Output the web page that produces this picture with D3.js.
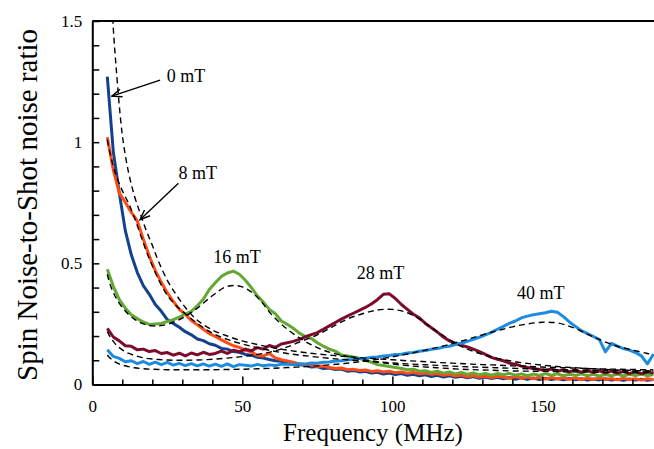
<!DOCTYPE html>
<html lang="en">
<head>
  <meta charset="UTF-8">
  <title>Spin noise spectra</title>
  <script src="https://d3js.org/d3.v7.min.js"></script>
  <style>
    body { margin: 0; background: #fff; }
    svg text { font-family: "Liberation Serif", "Times New Roman", serif; fill: #000; }
    .axis path { stroke: #000; stroke-width: 2; }
    .axis line { stroke: #000; stroke-width: 1.5; }
    .data { fill: none; stroke-width: 3; stroke-linejoin: round; }
    .fit { fill: none; stroke: #000; stroke-width: 1.4; stroke-dasharray: 6,4; }
  </style>
</head>
<body>
  <svg id="chart" width="654" height="449"></svg>
  <script>
    // frequency grid of the measured spectra (MHz)
    const freq = [5,7,9,11,13,15,17,19,21,23,
      25,27,29,31,33,35,37,39,41,43,
      45,47,49,51,53,55,57,59,61,63,
      65,67,69,71,73,75,77,79,81,83,
      85,87,89,91,93,95,97,99,101,103,
      105,107,109,111,113,115,117,119,121,123,
      125,127,129,131,133,135,137,139,141,143,
      145,147,149,151,153,155,157,159,161,163,
      165,167,169,171,173,175,177,179,181,183,
      185,187];

    const mT0 = [1.27,0.96,0.79,0.635,0.535,0.462,0.408,0.372,0.33,0.302,
      0.268,0.252,0.236,0.218,0.205,0.188,0.181,0.168,0.162,0.149,
      0.146,0.136,0.133,0.124,0.121,0.112,0.109,0.103,0.098,0.096,
      0.088,0.085,0.081,0.079,0.072,0.074,0.066,0.068,0.062,0.064,
      0.055,0.058,0.052,0.054,0.047,0.05,0.043,0.047,0.041,0.045,
      0.038,0.042,0.036,0.04,0.033,0.038,0.031,0.036,0.03,0.034,
      0.028,0.033,0.026,0.031,0.025,0.03,0.024,0.029,0.022,0.028,
      0.021,0.027,0.02,0.026,0.021,0.025,0.019,0.025,0.02,0.024,
      0.018,0.023,0.019,0.024,0.018,0.022,0.017,0.023,0.018,0.022,
      0.017,0.021];

    const mT8 = [1.02,0.885,0.79,0.752,0.71,0.675,0.6,0.53,0.47,0.422,
      0.378,0.343,0.31,0.29,0.264,0.246,0.228,0.21,0.198,0.184,
      0.172,0.16,0.153,0.141,0.135,0.12,0.118,0.128,0.11,0.102,
      0.097,0.092,0.085,0.082,0.08,0.074,0.076,0.07,0.066,0.068,
      0.061,0.063,0.058,0.06,0.054,0.057,0.052,0.055,0.049,0.052,
      0.046,0.05,0.044,0.047,0.042,0.045,0.038,0.042,0.035,0.039,
      0.032,0.037,0.03,0.035,0.028,0.034,0.03,0.026,0.033,0.025,
      0.031,0.024,0.03,0.022,0.029,0.024,0.028,0.021,0.027,0.02,
      0.026,0.021,0.027,0.02,0.025,0.019,0.026,0.02,0.024,0.018,
      0.024,0.02];

    const mT16 = [0.476,0.405,0.35,0.315,0.288,0.272,0.258,0.248,0.25,0.252,
      0.26,0.268,0.278,0.29,0.302,0.325,0.352,0.392,0.42,0.446,
      0.46,0.468,0.455,0.43,0.4,0.366,0.34,0.31,0.292,0.262,
      0.248,0.232,0.212,0.198,0.19,0.172,0.158,0.146,0.138,0.122,
      0.118,0.114,0.108,0.1,0.092,0.082,0.078,0.074,0.07,0.066,
      0.061,0.063,0.055,0.057,0.05,0.055,0.047,0.052,0.044,0.05,
      0.042,0.048,0.04,0.046,0.038,0.045,0.04,0.046,0.038,0.044,
      0.036,0.043,0.037,0.045,0.038,0.044,0.036,0.042,0.037,0.044,
      0.036,0.042,0.035,0.041,0.036,0.043,0.035,0.042,0.037,0.043,
      0.036,0.041];

    const mT28 = [0.232,0.196,0.18,0.16,0.158,0.143,0.146,0.136,0.14,0.128,
      0.132,0.121,0.129,0.118,0.13,0.122,0.133,0.124,0.128,0.138,
      0.128,0.141,0.135,0.146,0.139,0.152,0.146,0.161,0.153,0.167,
      0.172,0.178,0.186,0.197,0.206,0.214,0.228,0.242,0.256,0.27,
      0.282,0.294,0.306,0.318,0.332,0.35,0.372,0.374,0.355,0.33,
      0.31,0.29,0.275,0.252,0.234,0.216,0.196,0.18,0.17,0.162,
      0.155,0.146,0.136,0.124,0.112,0.104,0.098,0.088,0.084,0.076,
      0.07,0.066,0.062,0.058,0.064,0.055,0.061,0.052,0.06,0.05,
      0.058,0.049,0.056,0.047,0.055,0.046,0.054,0.045,0.053,0.044,
      0.052,0.046];

    const mT40 = [0.143,0.116,0.108,0.094,0.098,0.086,0.095,0.083,0.092,0.082,
      0.091,0.08,0.087,0.078,0.086,0.077,0.085,0.076,0.084,0.075,
      0.085,0.074,0.082,0.079,0.076,0.083,0.077,0.081,0.078,0.084,
      0.084,0.082,0.086,0.085,0.089,0.088,0.092,0.093,0.097,0.098,
      0.102,0.103,0.107,0.108,0.112,0.114,0.118,0.12,0.124,0.125,
      0.13,0.132,0.137,0.14,0.145,0.148,0.155,0.158,0.165,0.17,
      0.178,0.186,0.195,0.205,0.215,0.228,0.24,0.252,0.262,0.275,
      0.282,0.288,0.292,0.296,0.302,0.298,0.28,0.258,0.24,0.222,
      0.21,0.198,0.185,0.135,0.17,0.158,0.148,0.142,0.132,0.118,
      0.085,0.125];

    // fitted curves (dashed), sampled on a coarser grid
    const fitFreq = [5,6,7,8,10,12,14,16,18,20,22,25,28,31,35,
      40,45,50,55,60,65,70,75,80,85,90,95,100,105,110,
      115,120,125,130,135,140,145,150,155,160,165,170,175,180,185,187];

    const fit0 = [2.05,1.72,1.47,1.3,1.03,0.88,0.78,0.705,0.635,0.575,0.51,0.43,0.37,0.318,0.265,
      0.225,0.2,0.18,0.165,0.152,0.142,0.133,0.126,0.12,0.115,0.11,0.106,0.102,0.098,0.095,
      0.091,0.088,0.085,0.082,0.08,0.077,0.075,0.072,0.07,0.068,0.066,0.064,0.063,0.062,0.061,0.06];

    const fit8 = [1.01,0.95,0.9,0.86,0.8,0.75,0.69,0.62,0.55,0.49,0.435,0.368,0.325,0.292,0.252,
      0.212,0.186,0.167,0.152,0.139,0.128,0.12,0.113,0.107,0.102,0.097,0.093,0.089,0.085,0.082,
      0.079,0.076,0.073,0.071,0.069,0.067,0.065,0.063,0.061,0.06,0.059,0.058,0.057,0.056,0.055,0.055];

    const fit16 = [0.455,0.41,0.38,0.355,0.318,0.29,0.27,0.255,0.246,0.242,0.242,0.248,0.262,0.281,0.315,
      0.366,0.405,0.403,0.36,0.285,0.228,0.185,0.152,0.13,0.116,0.103,0.093,0.085,0.078,0.073,
      0.069,0.065,0.062,0.06,0.058,0.056,0.055,0.054,0.053,0.052,0.051,0.05,0.05,0.049,0.048,0.048];

    const fit28 = [0.219,0.195,0.178,0.163,0.143,0.129,0.12,0.113,0.108,0.105,0.103,0.101,0.1,0.1,0.101,
      0.104,0.109,0.115,0.124,0.136,0.155,0.18,0.205,0.238,0.27,0.292,0.307,0.31,0.296,0.262,
      0.218,0.178,0.146,0.124,0.108,0.096,0.087,0.08,0.074,0.07,0.066,0.063,0.06,0.058,0.056,0.055];

    const fit40 = [0.122,0.108,0.098,0.09,0.08,0.074,0.069,0.066,0.064,0.063,0.062,0.061,0.061,0.061,0.061,
      0.061,0.062,0.063,0.065,0.067,0.07,0.073,0.077,0.082,0.088,0.095,0.104,0.114,0.126,0.139,
      0.153,0.169,0.186,0.205,0.222,0.238,0.25,0.257,0.254,0.236,0.208,0.18,0.158,0.142,0.128,0.122];

    const seriesNames = ["0 mT", "8 mT", "16 mT", "28 mT", "40 mT"];
    const seriesColors = ["#12418f", "#ff4b14", "#62a832", "#7d0c2c", "#1c8be0"];
    const seriesValues = [mT0, mT8, mT16, mT28, mT40];
    const fitValues = [fit0, fit8, fit16, fit28, fit40];

    const xTicks = d3.range(0, 190, 10);
    const yTicks = d3.range(0, 16).map(i => i / 10);
    const yLabels = {0: "0", 0.5: "0.5", 1: "1", 1.5: "1.5"};

    // label anchors in data units, arrows point from label to curve
    const notes = [
      {text: "0 mT", f: 24.8, v: 1.25},
      {text: "8 mT", f: 28.7, v: 0.847},
      {text: "16 mT", f: 40.3, v: 0.503},
      {text: "28 mT", f: 88.1, v: 0.434},
      {text: "40 mT", f: 141.5, v: 0.352}
    ];
    const arrows = [
      {f1: 22.6, v1: 1.256, f2: 6.5, v2: 1.19},
      {f1: 28.7, v1: 0.83, f2: 15.9, v2: 0.68}
    ];

    const svg = d3.select("#chart");
    const x = d3.scaleLinear().domain([0, 187.2]).range([92.3, 654]);
    const y = d3.scaleLinear().domain([0, 1.5]).range([384.5, 21]);

    svg.append("defs").append("clipPath").attr("id", "plot")
      .append("rect")
      .attr("x", x(0)).attr("y", y(1.5))
      .attr("width", x(187.2) - x(0)).attr("height", y(0) - y(1.5));

    const marker = svg.select("defs").append("marker")
      .attr("id", "arrow")
      .attr("viewBox", "0 0 12 10")
      .attr("refX", 11).attr("refY", 5)
      .attr("markerWidth", 12).attr("markerHeight", 10)
      .attr("markerUnits", "userSpaceOnUse")
      .attr("orient", "auto");
    marker.append("path")
      .attr("d", "M1,1 L11,5 L1,9")
      .attr("fill", "none").attr("stroke", "#000").attr("stroke-width", 1.4);

    const plot = svg.append("g").attr("clip-path", "url(#plot)");

    const dataLine = d3.line()
      .x((d, i) => x(freq[i]))
      .y(d => y(d));
    const fitLine = d3.line()
      .x((d, i) => x(fitFreq[i]))
      .y(d => y(d))
      .curve(d3.curveCatmullRom.alpha(0.5));

    plot.selectAll("path.data")
      .data(seriesValues)
      .enter().append("path")
      .attr("class", "data")
      .attr("stroke", (d, i) => seriesColors[i])
      .attr("d", dataLine);

    plot.selectAll("path.fit")
      .data(fitValues)
      .enter().append("path")
      .attr("class", "fit")
      .attr("d", fitLine);

    // axes, ticks pointing inward
    const xAxis = svg.append("g")
      .attr("class", "axis")
      .attr("transform", "translate(0," + y(0) + ")")
      .call(d3.axisBottom(x).tickValues(xTicks).tickSizeInner(-5).tickSizeOuter(0)
        .tickPadding(15).tickFormat(d => d % 50 === 0 ? d : ""));
    xAxis.selectAll(".tick line").filter(d => d % 50 === 0).attr("y2", -8);
    xAxis.selectAll("text").attr("font-size", 17);

    const yAxis = svg.append("g")
      .attr("class", "axis")
      .attr("transform", "translate(" + x(0) + ",0)")
      .call(d3.axisLeft(y).tickValues(yTicks).tickSizeInner(-7).tickSizeOuter(0)
        .tickPadding(10).tickFormat(d => yLabels[d] || ""));
    yAxis.selectAll("text").attr("font-size", 17);

    svg.append("line")
      .attr("x1", x(0)).attr("x2", x(187.2))
      .attr("y1", y(1.5)).attr("y2", y(1.5))
      .attr("stroke", "#000").attr("stroke-width", 2);

    // annotations
    svg.selectAll("text.note")
      .data(notes)
      .enter().append("text")
      .attr("class", "note")
      .attr("x", d => x(d.f)).attr("y", d => y(d.v))
      .attr("font-size", 18)
      .text(d => d.text);

    svg.selectAll("line.arrow")
      .data(arrows)
      .enter().append("line")
      .attr("class", "arrow")
      .attr("x1", d => x(d.f1)).attr("y1", d => y(d.v1))
      .attr("x2", d => x(d.f2)).attr("y2", d => y(d.v2))
      .attr("stroke", "#000").attr("stroke-width", 1.4)
      .attr("marker-end", "url(#arrow)");

    // axis titles
    svg.append("text")
      .attr("x", 373).attr("y", 441)
      .attr("text-anchor", "middle")
      .attr("font-size", 25)
      .text("Frequency (MHz)");

    svg.append("text")
      .attr("transform", "translate(37,205) rotate(-90)")
      .attr("text-anchor", "middle")
      .attr("font-size", 29)
      .text("Spin Noise-to-Shot noise ratio");
  </script>
</body>
</html>
